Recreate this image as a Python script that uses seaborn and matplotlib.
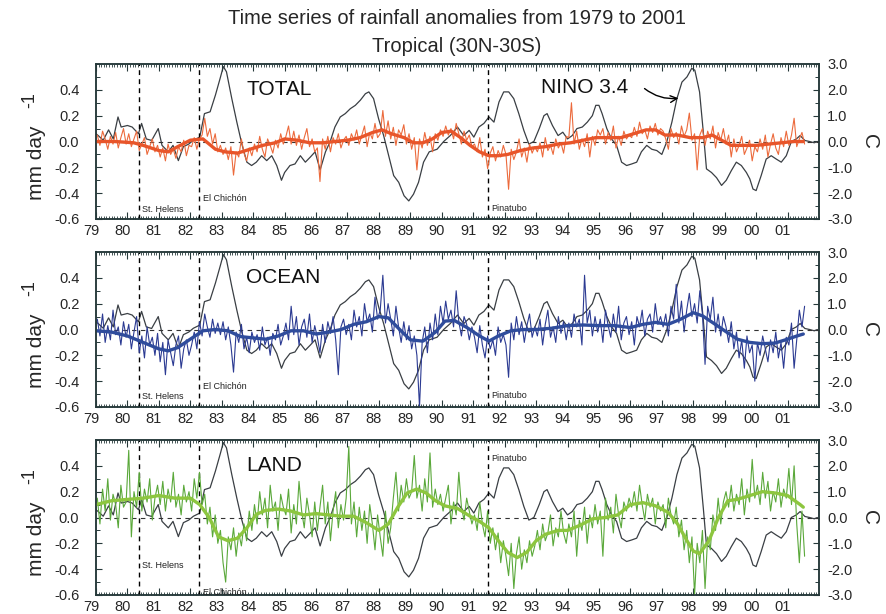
import numpy as np
import pandas as pd
import matplotlib
matplotlib.use("Agg")
import matplotlib.pyplot as plt
from matplotlib.transforms import ScaledTranslation
from matplotlib.ticker import MultipleLocator, FixedLocator, FormatStrFormatter
import seaborn as sns

sns.set_theme(style="ticks")
plt.rcParams["font.family"] = ["Liberation Sans", "DejaVu Sans"]
plt.rcParams["axes.unicode_minus"] = False

# ---------------- data ----------------
years = list(range(1979, 2002))
year_labels = [f"{y % 100:02d}" for y in years]

volcano_names = ["St. Helens", "El Chichón", "Pinatubo"]
volcano_dates = [1980.37, 1982.29, 1991.46]

# Nino 3.4 SST anomaly (C)
nino_t = [1979.0, 1979.07, 1979.23, 1979.4, 1979.55, 1979.7, 1979.8, 1980.0, 1980.15, 1980.35,
          1980.45, 1980.6, 1980.77, 1980.98, 1981.1, 1981.3, 1981.45, 1981.62, 1981.78, 1981.95,
          1982.1, 1982.3, 1982.45, 1982.63, 1982.8, 1982.95, 1983.05, 1983.15, 1983.32, 1983.48,
          1983.64, 1983.8, 1983.95, 1984.1, 1984.27, 1984.43, 1984.59, 1984.75, 1984.9, 1985.0,
          1985.17, 1985.33, 1985.5, 1985.66, 1985.82, 1985.97, 1986.13, 1986.3, 1986.45, 1986.6,
          1986.77, 1986.93, 1987.09, 1987.25, 1987.41, 1987.57, 1987.68, 1987.83, 1987.99, 1988.15,
          1988.31, 1988.47, 1988.63, 1988.8, 1988.95, 1989.1, 1989.26, 1989.42, 1989.6, 1989.85,
          1990.06, 1990.27, 1990.5, 1990.7, 1990.87, 1991.02, 1991.18, 1991.34, 1991.5, 1991.66,
          1991.82, 1991.97, 1992.13, 1992.29, 1992.45, 1992.61, 1992.77, 1992.93, 1993.1, 1993.25,
          1993.35, 1993.52, 1993.7, 1993.85, 1994.0, 1994.15, 1994.3, 1994.47, 1994.63, 1994.79,
          1994.9, 1995.0, 1995.1, 1995.25, 1995.4, 1995.56, 1995.72, 1995.88, 1996.04, 1996.2,
          1996.35, 1996.52, 1996.68, 1996.84, 1997.0, 1997.16, 1997.32, 1997.48, 1997.64, 1997.8,
          1997.95, 1998.05, 1998.2, 1998.32, 1998.42, 1998.58, 1998.74, 1998.9, 1999.05, 1999.21,
          1999.37, 1999.53, 1999.69, 1999.8, 1999.9, 2000.0, 2000.16, 2000.32, 2000.48, 2000.64,
          2000.8, 2000.96, 2001.12, 2001.28, 2001.4, 2001.55, 2001.7, 2001.85, 2001.95]
nino_v = [0.3, 0.23, 0.05, 0.45, 0.1, 0.95, 0.56, 0.62, 0.56, 0.3,
          0.7, 0.1, 0.04, 0.5, -0.15, -0.4, -0.15, -0.74, -0.2, -0.1,
          0.05, 0.17, 1.08, 1.15, 1.8, 2.45, 2.9, 2.7, 1.66, 0.75,
          -0.1, -0.8, -0.93, -0.8, -0.55, -0.74, -0.55, -0.93, -1.5, -1.2,
          -0.93, -0.87, -0.55, -0.8, -0.6, -0.4, -1.1, -0.4, 0.0, 0.56,
          0.95, 1.08, 1.27, 1.4, 1.6, 1.85, 1.92, 1.66, 0.88, 0.23,
          -0.55, -1.32, -1.58, -2.1, -2.3, -2.04, -1.58, -0.8, -0.4, -0.3,
          0.0, 0.23, 0.56, 0.23, 0.43, 0.17, 0.56, 0.7, 0.95, 0.75,
          1.53, 1.92, 1.92, 1.66, 1.08, 0.43, -0.1, 0.0, 0.5, 1.0,
          1.08, 0.62, 0.23, 0.36, 0.1, 0.23, 0.5, 0.56, 0.75, 1.0,
          1.4, 1.4, 1.08, 0.5, 0.1, -0.15, -0.8, -0.93, -0.87, -0.8,
          -0.4, -0.15, -0.3, -0.35, -0.5, 0.0, 0.75, 1.66, 2.3, 2.5,
          2.83, 2.76, 1.92, 0.36, -1.06, -1.2, -1.4, -1.7, -1.5, -1.13,
          -0.8, -0.93, -1.2, -1.45, -1.84, -1.9, -1.32, -0.68, -0.55, -0.68,
          -0.8, -0.55, 0.0, 0.1, 0.23, 0.04, 0.0, -0.05, 0.0]

# Monthly rainfall anomalies (mm/day), Jan 1979 onward
total_raw = [
    0.05, -0.03, 0.08, 0.02, -0.06, 0.04, -0.02, 0.07, -0.05, 0.03, 0.10, -0.02,
    0.06, -0.04, 0.02, 0.08, -0.07, -0.02, 0.03, -0.10, -0.04, 0.02, -0.08, -0.03,
    -0.12, -0.05, -0.15, -0.02, -0.10, -0.06, -0.13, -0.04, -0.08, 0.01, -0.11, -0.03,
    -0.04, 0.03, -0.06, 0.02, 0.05, 0.18, 0.04, 0.10, -0.02, 0.06, -0.08, -0.03,
    -0.10, -0.05, -0.14, -0.04, -0.26, -0.08, -0.12, 0.02, -0.09, -0.15, -0.05, -0.11,
    -0.02, -0.08, 0.04, -0.06, -0.12, 0.02, -0.03, -0.09, 0.01, -0.05, 0.06, -0.02,
    0.04, 0.12, -0.02, 0.08, -0.03, 0.05, -0.06, 0.03, 0.10, -0.04, 0.02, -0.08,
    -0.05, -0.31, 0.02, -0.06, 0.04, -0.08, 0.03, -0.02, 0.06, -0.05, 0.01, 0.04,
    -0.03, 0.06, 0.01, 0.09, -0.02, 0.05, 0.12, -0.04, 0.07, 0.02, 0.14, 0.03,
    0.06, 0.24, 0.04, 0.16, 0.02, 0.11, -0.03, 0.09, 0.05, 0.13, -0.02, 0.06,
    -0.06, 0.03, -0.22, 0.02, -0.05, 0.07, -0.03, 0.04, -0.08, 0.06, 0.01, 0.09,
    0.04, 0.12, 0.05, 0.10, 0.02, 0.14, 0.06, -0.02, 0.08, 0.01, 0.05, -0.04,
    -0.02, -0.08, 0.03, -0.12, -0.06, -0.21, -0.09, -0.04, -0.15, -0.07, -0.12, -0.03,
    -0.10, -0.37, -0.06, -0.14, -0.08, 0.02, -0.12, -0.05, -0.16, -0.02, -0.09, -0.04,
    -0.08, -0.01, -0.12, 0.03, -0.07, -0.03, -0.10, 0.02, -0.05, -0.01, -0.09, 0.04,
    0.03, 0.30, -0.02, 0.08, -0.06, 0.02, -0.04, 0.06, -0.12, 0.04, -0.03, 0.09,
    0.05, 0.10, -0.02, 0.07, 0.01, 0.12, -0.05, 0.04, -0.03, 0.08, 0.02, 0.05,
    0.03, 0.11, 0.04, 0.15, 0.06, 0.09, 0.02, 0.12, 0.07, 0.14, 0.05, 0.10,
    0.08, 0.02, -0.06, 0.10, 0.03, 0.07, -0.02, 0.12, 0.04, 0.09, 0.22, 0.01,
    0.06, -0.22, 0.05, 0.10, -0.03, 0.08, 0.02, 0.12, -0.05, 0.07, 0.01, 0.10,
    -0.02, 0.05, -0.12, 0.02, -0.08, -0.03, 0.04, -0.10, -0.05, 0.01, -0.15, -0.04,
    -0.08, 0.02, -0.06, 0.05, -0.12, -0.02, 0.06, -0.05, -0.10, 0.03, -0.04, 0.08,
    -0.03, 0.05, 0.18, -0.04, 0.02, 0.07, -0.02]

ocean_raw = [
    0.08, -0.05, 0.12, -0.10, 0.03, -0.08, 0.15, -0.04, 0.02, -0.12, 0.06, -0.06,
    0.04, -0.15, -0.02, 0.10, -0.18, -0.05, -0.22, 0.02, -0.12, -0.06, -0.20, -0.03,
    -0.25, -0.10, -0.35, -0.08, -0.18, -0.28, -0.12, -0.05, -0.30, -0.15, -0.08, -0.20,
    -0.12, -0.02, -0.15, 0.06, -0.05, 0.12, 0.02, -0.06, 0.08, -0.03, 0.05, -0.04,
    0.06, -0.08, 0.02, -0.12, -0.33, -0.02, -0.10, 0.04, -0.15, -0.06, -0.18, -0.02,
    -0.10, -0.04, -0.16, 0.02, -0.12, -0.06, -0.20, -0.03, -0.08, 0.04, -0.12, -0.05,
    0.05, -0.08, 0.18, -0.04, 0.10, -0.12, 0.02, 0.08, -0.06, 0.12, -0.10, 0.03,
    -0.06, -0.18, 0.04, -0.10, 0.06, -0.03, 0.10, -0.08, -0.35, 0.02, 0.08, -0.04,
    0.04, -0.08, 0.15, 0.02, 0.10, -0.05, 0.20, 0.06, 0.12, -0.02, 0.25, 0.08,
    0.15, 0.42, 0.05, 0.20, 0.08, -0.05, 0.18, 0.02, -0.10, 0.06, -0.08, 0.03,
    -0.15, -0.05, -0.20, -0.60, -0.10, 0.02, -0.18, 0.05, -0.08, 0.12, -0.04, 0.18,
    0.05, 0.22, 0.08, 0.15, 0.02, 0.30, 0.06, -0.05, 0.10, 0.04, -0.08, 0.02,
    -0.06, -0.18, 0.03, -0.12, -0.22, -0.05, -0.15, -0.08, -0.20, 0.02, -0.10, -0.04,
    -0.12, -0.37, 0.05, -0.08, 0.10, -0.04, 0.06, -0.10, 0.03, 0.12, -0.06, 0.02,
    -0.05, 0.08, -0.12, 0.04, 0.15, -0.06, 0.02, -0.10, 0.10, -0.03, 0.06, -0.08,
    0.05, -0.06, 0.12, 0.02, 0.08, -0.12, 0.42, 0.05, 0.15, -0.05, 0.10, -0.02,
    0.08, -0.10, 0.15, 0.03, -0.06, 0.12, -0.02, 0.18, -0.08, 0.05, 0.10, -0.04,
    0.06, -0.12, 0.10, 0.02, 0.15, -0.05, 0.08, 0.12, -0.02, 0.20, 0.04, 0.10,
    0.02, 0.12, -0.05, 0.18, 0.08, 0.35, 0.05, 0.22, -0.02, 0.15, 0.28, 0.10,
    0.20, 0.05, 0.30, 0.12, -0.27, 0.18, 0.08, 0.25, -0.02, 0.12, -0.05, 0.10,
    0.02, -0.10, 0.06, -0.15, -0.02, -0.22, -0.08, -0.30, -0.05, -0.18, -0.12, -0.40,
    -0.10, -0.20, -0.05, -0.15, -0.25, -0.08, -0.18, -0.02, -0.22, -0.10, -0.30, -0.06,
    -0.12, 0.05, -0.30, -0.08, 0.15, 0.02, 0.18]

land_raw = [
    0.15, -0.05, 0.22, 0.05, 0.30, -0.02, 0.18, 0.10, -0.08, 0.25, 0.08, 0.12,
    0.52, -0.15, 0.20, 0.08, 0.35, 0.05, 0.22, 0.12, 0.30, -0.02, 0.15, 0.25,
    0.10, 0.28, 0.05, 0.22, 0.12, 0.35, 0.08, 0.18, 0.02, 0.25, 0.12, 0.20,
    0.05, 0.30, 0.15, 0.35, 0.10, 0.18, -0.05, 0.08, -0.15, 0.02, -0.20, -0.10,
    -0.35, -0.50, -0.15, -0.25, -0.08, -0.30, -0.12, -0.22, -0.05, -0.18, 0.05, -0.10,
    0.10, -0.05, 0.20, 0.02, 0.15, -0.08, 0.25, 0.05, 0.12, -0.10, 0.18, 0.08,
    0.02, 0.22, -0.12, 0.10, -0.05, 0.28, 0.05, -0.08, 0.15, 0.02, -0.15, 0.12,
    -0.10, 0.08, 0.25, -0.05, 0.12, -0.18, 0.05, 0.20, -0.08, 0.10, -0.02, 0.15,
    0.55, -0.05, 0.12, -0.15, 0.08, -0.10, 0.05, -0.20, 0.10, -0.05, -0.25, 0.02,
    -0.15, -0.30, 0.05, -0.20, -0.08, 0.15, 0.35, 0.05, 0.25, 0.12, 0.30, 0.15,
    0.20, 0.48, 0.15, 0.25, 0.05, 0.30, 0.12, 0.50, 0.08, 0.22, 0.10, 0.18,
    0.05, 0.15, 0.25, -0.05, 0.12, 0.02, 0.35, 0.08, -0.02, 0.15, 0.05, -0.05,
    0.02, -0.10, 0.12, -0.05, -0.15, 0.05, -0.20, -0.08, -0.25, -0.12, -0.35, -0.18,
    -0.30, -0.45, -0.20, -0.55, -0.28, -0.15, -0.40, -0.25, -0.35, -0.18, -0.30, -0.22,
    -0.10, -0.25, -0.05, -0.18, -0.12, 0.02, -0.22, -0.08, -0.15, 0.05, -0.12, -0.20,
    -0.05, -0.15, 0.05, -0.30, -0.02, -0.10, 0.08, -0.20, 0.02, -0.08, 0.10, -0.05,
    0.05, -0.30, 0.15, -0.02, 0.08, -0.12, 0.18, 0.02, -0.08, 0.12, 0.05, 0.15,
    0.08, 0.20, 0.05, 0.25, 0.10, -0.02, 0.18, 0.08, 0.15, -0.05, 0.12, 0.05,
    0.10, -0.08, 0.15, 0.02, -0.05, 0.08, -0.15, -0.02, -0.25, -0.10, -0.35, -0.15,
    -0.60, -0.20, -0.35, -0.10, -0.55, -0.15, -0.25, 0.02, -0.10, 0.15, -0.05, 0.12,
    0.20, 0.08, 0.25, 0.05, 0.18, 0.10, 0.30, 0.02, 0.22, 0.12, 0.45, 0.15,
    0.25, 0.10, 0.35, 0.15, 0.28, 0.05, 0.20, 0.12, 0.30, 0.08, 0.22, 0.15,
    0.38, 0.10, 0.40, -0.05, -0.35, 0.05, -0.30]

# Smoothed anomalies (mm/day)
total_smooth_t = [1979.0, 1979.6, 1980.2, 1980.5, 1981.0, 1981.3, 1981.6, 1982.0, 1982.4, 1982.8,
                  1983.1, 1983.5, 1983.9, 1984.3, 1984.7, 1985.0, 1985.4, 1985.8, 1986.2, 1986.6,
                  1987.0, 1987.4, 1987.8, 1988.1, 1988.4, 1988.8, 1989.1, 1989.4, 1989.7, 1990.0,
                  1990.3, 1990.6, 1990.9, 1991.2, 1991.5, 1991.8, 1992.1, 1992.5, 1992.9, 1993.3,
                  1993.7, 1994.1, 1994.5, 1994.9, 1995.3, 1995.7, 1996.1, 1996.5, 1996.8, 1997.1,
                  1997.5, 1997.9, 1998.3, 1998.6, 1998.9, 1999.2, 1999.6, 2000.0, 2000.4, 2000.8,
                  2001.2, 2001.5]
total_smooth_v = [0.0, 0.0, -0.01, -0.03, -0.07, -0.08, -0.04, 0.01, 0.02, -0.06,
                  -0.08, -0.09, -0.06, -0.03, -0.01, 0.02, 0.01, -0.01, -0.01, 0.0,
                  0.01, 0.03, 0.07, 0.09, 0.06, 0.03, -0.01, -0.01, 0.02, 0.07,
                  0.08, 0.03, -0.03, -0.08, -0.11, -0.11, -0.1, -0.07, -0.05, -0.04,
                  -0.02, -0.01, 0.01, 0.03, 0.03, 0.03, 0.06, 0.09, 0.09, 0.05,
                  0.05, 0.03, 0.03, 0.05, 0.01, -0.03, -0.03, -0.03, -0.02, -0.01,
                  0.0, 0.0]

ocean_smooth_t = [1979.0, 1979.5, 1980.0, 1980.5, 1981.0, 1981.3, 1981.6, 1982.0, 1982.4, 1982.8,
                  1983.2, 1983.6, 1984.0, 1984.4, 1984.8, 1985.2, 1985.6, 1986.0, 1986.4, 1986.8,
                  1987.2, 1987.6, 1988.0, 1988.3, 1988.7, 1989.0, 1989.4, 1989.8, 1990.1, 1990.4,
                  1990.8, 1991.2, 1991.5, 1991.8, 1992.2, 1992.6, 1993.0, 1993.5, 1994.0, 1994.5,
                  1995.0, 1995.5, 1996.0, 1996.4, 1996.8, 1997.2, 1997.6, 1998.0, 1998.3, 1998.7,
                  1999.0, 1999.4, 1999.8, 2000.2, 2000.6, 2001.0, 2001.3, 2001.5]
ocean_smooth_v = [-0.01, -0.02, -0.05, -0.1, -0.15, -0.165, -0.14, -0.075, -0.01, 0.0,
                  -0.01, -0.055, -0.065, -0.075, -0.05, -0.01, -0.01, -0.035, -0.02, 0.0,
                  0.04, 0.06, 0.1, 0.09, -0.01, -0.08, -0.09, -0.02, 0.065, 0.07,
                  0.015, -0.05, -0.09, -0.05, -0.01, 0.0, 0.0, 0.01, 0.03, 0.035,
                  0.03, 0.03, 0.015, 0.04, 0.055, 0.04, 0.08, 0.13, 0.105, 0.04,
                  -0.01, -0.075, -0.1, -0.11, -0.105, -0.075, -0.05, -0.035]

land_smooth_t = [1979.0, 1979.5, 1980.0, 1980.5, 1981.0, 1981.5, 1982.0, 1982.3, 1982.6, 1982.9,
                 1983.2, 1983.5, 1983.8, 1984.1, 1984.4, 1984.8, 1985.2, 1985.6, 1986.0, 1986.4,
                 1986.8, 1987.2, 1987.6, 1988.0, 1988.3, 1988.6, 1988.9, 1989.2, 1989.5, 1989.8,
                 1990.1, 1990.5, 1990.9, 1991.2, 1991.5, 1991.8, 1992.1, 1992.4, 1992.7, 1993.0,
                 1993.3, 1993.7, 1994.0, 1994.4, 1994.8, 1995.2, 1995.6, 1996.0, 1996.4, 1996.8,
                 1997.2, 1997.5, 1997.8, 1998.0, 1998.2, 1998.5, 1998.8, 1999.1, 1999.4, 1999.8,
                 2000.2, 2000.6, 2001.0, 2001.4, 2001.5]
land_smooth_v = [0.1, 0.13, 0.14, 0.15, 0.17, 0.15, 0.15, 0.1, 0.0, -0.15,
                 -0.18, -0.16, -0.08, 0.025, 0.055, 0.065, 0.05, 0.02, 0.03, 0.02,
                 0.01, 0.01, -0.04, -0.1, -0.05, 0.08, 0.19, 0.22, 0.19, 0.13,
                 0.09, 0.07, 0.01, -0.03, -0.08, -0.18, -0.27, -0.31, -0.27, -0.18,
                 -0.13, -0.1, -0.1, -0.06, -0.01, 0.0, 0.02, 0.1, 0.115, 0.09,
                 0.04, -0.05, -0.18, -0.26, -0.28, -0.18, 0.0, 0.13, 0.14, 0.17,
                 0.2, 0.19, 0.17, 0.1, 0.08]

panels = [
    ("TOTAL", total_raw, total_smooth_t, total_smooth_v, "#ec6a3c", "#e8552a"),
    ("OCEAN", ocean_raw, ocean_smooth_t, ocean_smooth_v, "#2b3a92", "#2f4c9c"),
    ("LAND", land_raw, land_smooth_t, land_smooth_v, "#5aa83a", "#8dc63f"),
]

# ---------------- figure ----------------
fig = plt.figure(figsize=(8.86, 6.14), dpi=100)
left, width, height = 96 / 886, 723 / 886, 155 / 614
bottoms = [1 - 219 / 614, 1 - 407 / 614, 1 - 595 / 614]

frame_col = "#26393a"
label_shift = ScaledTranslation(-5 / 100, 0, fig.dpi_scale_trans)

# vertical position (mm/day) of each volcano name, per panel
volcano_label_y = [
    [-0.53, -0.44, -0.52],
    [-0.52, -0.44, -0.51],
    [-0.37, -0.58, 0.46],
]

for i, (name, raw, st, sv, c_raw, c_smooth) in enumerate(panels):
    ax = fig.add_axes([left, bottoms[i], width, height])
    ax2 = ax.twinx()
    ax.set_zorder(ax2.get_zorder() + 1)
    ax.patch.set_visible(False)

    # Nino 3.4 on the right-hand axis
    sns.lineplot(x=nino_t, y=nino_v, ax=ax2, color="#3a3f44", linewidth=0.9,
                 estimator=None, sort=False)
    ax2.set_ylim(-3, 3)

    t_month = 1979 + (np.arange(len(raw)) + 0.5) / 12.0
    df = pd.DataFrame({"t": t_month, "v": raw})
    sns.lineplot(data=df, x="t", y="v", ax=ax, color=c_raw, linewidth=0.8,
                 estimator=None, sort=False)
    sns.lineplot(x=st, y=sv, ax=ax, color=c_smooth, linewidth=2.4,
                 estimator=None, sort=False)

    ax.axhline(0, color="#333333", lw=0.8, ls=(0, (4, 4)), zorder=0)
    for vd in volcano_dates:
        ax.axvline(vd, color="black", lw=1.0, ls=(0, (3.5, 3)), zorder=1)
    for vn, vd, vy in zip(volcano_names, volcano_dates, volcano_label_y[i]):
        ax.text(vd + 0.1, vy, vn, fontsize=6.5, color="#222222", va="center", ha="left")

    ax.set_xlim(1979, 2002)
    ax.set_ylim(-0.6, 0.6)
    ax.set_xlabel("")
    ax.set_ylabel("")
    ax2.set_ylabel("")

    ax.xaxis.set_major_locator(FixedLocator(years))
    ax.set_xticklabels(year_labels)
    ax.xaxis.set_minor_locator(MultipleLocator(1 / 12))
    ax.set_yticks([-0.6, -0.4, -0.2, 0.0, 0.2, 0.4])
    ax.yaxis.set_major_formatter(FormatStrFormatter("%.1f"))
    ax.yaxis.set_minor_locator(MultipleLocator(0.1))
    ax2.set_yticks([-3, -2, -1, 0, 1, 2, 3])
    ax2.yaxis.set_major_formatter(FormatStrFormatter("%.1f"))
    ax2.yaxis.set_minor_locator(MultipleLocator(0.5))

    ax.tick_params(axis="x", which="major", direction="in", length=5, width=0.8,
                   top=True, bottom=True, labelsize=10.5, pad=3.5, color=frame_col)
    ax.tick_params(axis="x", which="minor", direction="in", length=2.5, width=0.6,
                   top=True, bottom=True, color=frame_col)
    ax.tick_params(axis="y", which="major", direction="in", length=4, width=0.8,
                   left=True, right=False, labelsize=10.5, pad=12, color=frame_col)
    ax.tick_params(axis="y", which="minor", direction="in", length=3, width=0.7,
                   left=True, right=False, color=frame_col)
    ax2.tick_params(axis="y", which="major", direction="in", length=4, width=0.8,
                    labelsize=10.5, pad=6, color=frame_col)
    ax2.tick_params(axis="y", which="minor", direction="in", length=3, width=0.7,
                    color=frame_col)
    for lab in ax.get_xticklabels():
        lab.set_transform(lab.get_transform() + label_shift)

    for a in (ax, ax2):
        for sp in a.spines.values():
            sp.set_color(frame_col)
            sp.set_linewidth(1.1)

    ax.text(1983.78, 0.4, name, fontsize=15, color="#111111", va="center", ha="left")

    # axis titles
    ax.text(-0.082, 0.12, "mm day", transform=ax.transAxes, rotation=90,
            fontsize=15, ha="center", va="bottom")
    ax.text(-0.092, 0.77, "-1", transform=ax.transAxes, rotation=90,
            fontsize=13, ha="center", va="center")
    ax.text(1.07, 0.5, "C", transform=ax.transAxes, rotation=-90,
            fontsize=15, ha="center", va="center")

    if i == 0:
        ax.text(1993.15, 0.42, "NINO 3.4", fontsize=15, va="center", ha="left",
                color="#111111")
        ax.annotate("", xy=(1997.53, 0.335), xytext=(1996.45, 0.41),
                    arrowprops=dict(arrowstyle="->", color="black", lw=1.0,
                                    shrinkA=0, shrinkB=0,
                                    connectionstyle="arc3,rad=0.2"))

fig.text(0.516, 1 - 18 / 614, "Time series of rainfall anomalies from 1979 to 2001",
         ha="center", va="center", fontsize=14.5)
fig.text(0.516, 1 - 47 / 614, "Tropical (30N-30S)", ha="center", va="center", fontsize=14.5)

fig.savefig("out.png", dpi=100)
